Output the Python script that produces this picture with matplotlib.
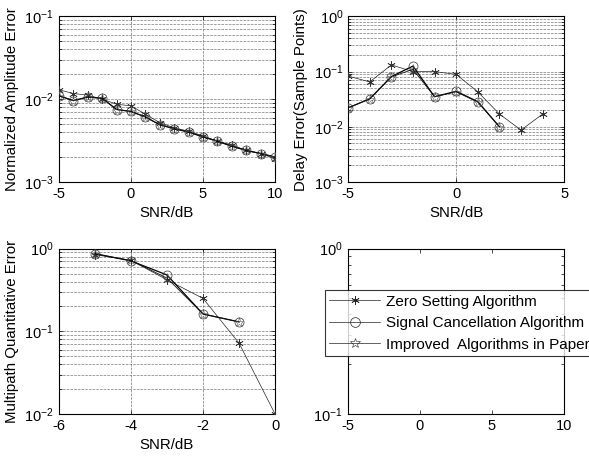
import numpy as np
import matplotlib
matplotlib.use("Agg")
import matplotlib.pyplot as plt
from matplotlib.ticker import LogLocator, NullFormatter

plt.rcParams['font.family'] = ['Liberation Sans', 'DejaVu Sans']
plt.rcParams['mathtext.fontset'] = 'custom'
plt.rcParams['mathtext.rm'] = 'Liberation Sans'
plt.rcParams['mathtext.it'] = 'Liberation Sans'
plt.rcParams['mathtext.default'] = 'regular'
plt.rcParams['axes.unicode_minus'] = False

# ---- data ----
snr_amp = [-5, -4, -3, -2, -1, 0, 1, 2, 3, 4, 5, 6, 7, 8, 9, 10]
amp_zero = [0.013, 0.0117, 0.0112, 0.0100, 0.0087, 0.0083, 0.0066, 0.0052, 0.0045, 0.0041,
            0.0036, 0.0031, 0.0028, 0.0024, 0.0022, 0.0019]
amp_cancel = [0.011, 0.0096, 0.0106, 0.0103, 0.0075, 0.0071, 0.0061, 0.0049, 0.0044, 0.0040,
              0.0035, 0.0031, 0.0027, 0.0024, 0.0022, 0.0020]
amp_improved = [0.011, 0.0096, 0.0106, 0.0102, 0.0075, 0.0071, 0.0061, 0.0049, 0.0044, 0.0040,
                0.0035, 0.0031, 0.0027, 0.0024, 0.0022, 0.0020]

snr_delay_zero = [-5, -4, -3, -2, -1, 0, 1, 2, 3, 4]
delay_zero = [0.083, 0.065, 0.132, 0.100, 0.100, 0.089, 0.043, 0.017, 0.0087, 0.017]
snr_delay_cancel = [-5, -4, -3, -2, -1, 0, 1, 2]
delay_cancel = [0.022, 0.032, 0.081, 0.126, 0.035, 0.044, 0.0285, 0.010]
delay_improved = [0.022, 0.032, 0.080, 0.110, 0.035, 0.043, 0.028, 0.010]

snr_mp_zero = [-5, -4, -3, -2, -1, 0]
mp_zero = [0.845, 0.72, 0.42, 0.25, 0.072, 0.010]
snr_mp_cancel = [-5, -4, -3, -2, -1]
mp_cancel = [0.87, 0.71, 0.48, 0.162, 0.13]
mp_improved = [0.86, 0.72, 0.44, 0.162, 0.13]

labels = ['Zero Setting Algorithm', 'Signal Cancellation Algorithm',
          'Improved  Algorithms in Paper']

FS = 10.5
AFS = 10.8
LFS = 11
fig = plt.figure(figsize=(5.89, 4.57), dpi=100)

W = 0.367
H = 0.362
ax1 = fig.add_axes([0.100, 0.602, W, H])
ax2 = fig.add_axes([0.591, 0.602, W, H])
ax3 = fig.add_axes([0.100, 0.094, W, H])
ax4 = fig.add_axes([0.590, 0.094, W, H])

ast = (6, 2, 0)

def plot_set(ax, xz, yz, xc, yc, yi):
    ax.plot(xz, yz, color='#222222', lw=0.5, marker=ast, ms=6, mew=0.5,
            mec='#333333', zorder=3)
    ax.plot(xc, yc, color='k', lw=0.9, marker='o', ms=6.5, mfc='none', mew=0.5,
            mec='#333333', zorder=3)
    ax.plot(xc, yi, color='#111111', lw=0.6, marker='*', ms=6.5, mfc='none', mew=0.4,
            mec='#555555', zorder=3)

def style(ax, grid=True):
    ax.set_yscale('log')
    ax.tick_params(which='both', direction='in', top=True, right=True,
                   labelsize=FS, width=0.5)
    ax.tick_params(which='major', length=3)
    ax.tick_params(which='minor', length=2)
    ax.yaxis.set_major_locator(LogLocator(base=10, numticks=10))
    ax.yaxis.set_minor_locator(LogLocator(base=10, subs=np.arange(2, 10), numticks=20))
    ax.yaxis.set_minor_formatter(NullFormatter())
    for s in ax.spines.values():
        s.set_linewidth(0.8)
    if grid:
        ax.grid(True, which='major', axis='x', ls='--', lw=0.5, color='#777777')
        ax.grid(True, which='both', axis='y', ls='--', lw=0.5, color='#777777')

plot_set(ax1, snr_amp, amp_zero, snr_amp, amp_cancel, amp_improved)
style(ax1)
ax1.set_xlim(-5, 10)
ax1.set_ylim(1e-3, 1e-1)
ax1.set_xticks([-5, 0, 5, 10])
ax1.set_xlabel('SNR/dB', fontsize=AFS)
ax1.set_ylabel('Normalized Amplitude Error', fontsize=AFS)

plot_set(ax2, snr_delay_zero, delay_zero, snr_delay_cancel, delay_cancel, delay_improved)
style(ax2)
ax2.set_xlim(-5, 5)
ax2.set_ylim(1e-3, 1e0)
ax2.set_xticks([-5, 0, 5])
ax2.set_xlabel('SNR/dB', fontsize=AFS)
ax2.set_ylabel('Delay Error(Sample Points)', fontsize=AFS)

plot_set(ax3, snr_mp_zero, mp_zero, snr_mp_cancel, mp_cancel, mp_improved)
style(ax3)
ax3.set_xlim(-6, 0)
ax3.set_ylim(1e-2, 1e0)
ax3.set_xticks([-6, -4, -2, 0])
ax3.set_xlabel('SNR/dB', fontsize=AFS)
ax3.set_ylabel('Multipath Quantitative Error', fontsize=AFS)

style(ax4, grid=False)
ax4.set_xlim(-5, 10)
ax4.set_ylim(1e-1, 1e0)
ax4.set_xticks([-5, 0, 5, 10])
h1, = ax4.plot([], [], color='#222222', lw=0.5, marker=ast, ms=6, mew=0.5)
h2, = ax4.plot([], [], color='#222222', lw=0.5, marker='o', ms=7, mfc='none', mew=0.5)
h3, = ax4.plot([], [], color='#222222', lw=0.5, marker='*', ms=7, mfc='none', mew=0.4)
leg = ax4.legend([h1, h2, h3], labels, loc='upper left', bbox_to_anchor=(-0.105, 0.75),
                 fontsize=LFS, frameon=True, fancybox=False, edgecolor='k',
                 handlelength=3.3, borderpad=0.3, labelspacing=0.5,
                 handletextpad=0.4, borderaxespad=0)
leg.get_frame().set_linewidth(0.8)
leg.set_clip_on(False)

fig.savefig('out.png', dpi=100)
